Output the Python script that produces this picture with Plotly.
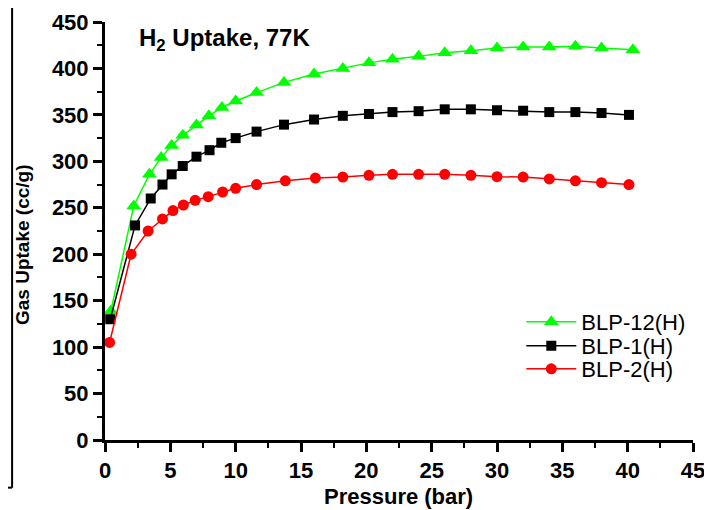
import plotly.graph_objects as go

# ---- data ----
x_blp12 = [0.45, 2.2, 3.4, 4.3, 5.1, 5.95, 7.0, 7.95, 8.95, 10.0, 11.6, 13.7, 16.0, 18.2,
           20.2, 22.0, 24.0, 26.0, 28.0, 30.0, 32.0, 34.0, 36.0, 38.0, 40.4]
y_blp12 = [139, 252, 286, 304, 317, 328, 339, 349, 358, 365, 374, 385, 394, 400,
           406, 410, 413, 417, 419, 422, 423, 423, 424, 422, 420]

x_blp1 = [0.4, 2.3, 3.5, 4.4, 5.1, 5.95, 7.0, 8.0, 8.9, 10.0, 11.6, 13.7, 16.0, 18.2,
          20.2, 22.0, 24.0, 26.0, 28.0, 30.0, 32.0, 34.0, 36.0, 38.0, 40.1]
y_blp1 = [130, 231, 260, 275, 286, 295, 305, 312, 320, 325, 332, 339.5, 345, 349,
          351, 353, 354, 356, 356, 355, 354.5, 353, 353, 352, 350]

x_blp2 = [0.35, 2.0, 3.3, 4.4, 5.2, 6.0, 6.9, 7.9, 9.0, 10.0, 11.6, 13.8, 16.1, 18.2,
          20.2, 22.0, 24.0, 26.0, 28.0, 30.0, 32.0, 34.0, 36.0, 38.0, 40.1]
y_blp2 = [105, 200, 225, 238, 247, 253, 258, 262, 267, 271, 275, 279, 282, 283,
          285, 286, 286, 286, 285, 283.5, 283, 281, 279, 277, 275]

series_names = ["BLP-12(H)", "BLP-1(H)", "BLP-2(H)"]
title_text = "H<sub>2</sub> Uptake, 77K"
x_title = "Pressure (bar)"
y_title = "Gas Uptake (cc/g)"

FONT = "Liberation Sans, Arial, sans-serif"

fig = go.Figure()
fig.add_trace(go.Scatter(x=x_blp12, y=y_blp12, mode="lines+markers", name=series_names[0],
                         legend="legend",
                         line=dict(color="#00ff00", width=1.5),
                         marker=dict(symbol="triangle-up", size=13, color="#00ff00")))
fig.add_trace(go.Scatter(x=x_blp1, y=y_blp1, mode="lines+markers", name=series_names[1],
                         legend="legend2",
                         line=dict(color="#000000", width=1.5),
                         marker=dict(symbol="square", size=10, color="#000000")))
fig.add_trace(go.Scatter(x=x_blp2, y=y_blp2, mode="lines+markers", name=series_names[2],
                         legend="legend3",
                         line=dict(color="#ff0000", width=1.5),
                         marker=dict(symbol="circle", size=11, color="#ff0000")))

axis_common = dict(showgrid=False, zeroline=False, showline=True, linecolor="black",
                   linewidth=3, ticks="outside", tickwidth=2.5, ticklen=9, tickcolor="black",
                   tickfont=dict(family=FONT, size=22, color="black", weight="bold"),
                   mirror=False, automargin=False)

fig.update_xaxes(range=[0, 45], dtick=5, tick0=0,
                 minor=dict(dtick=2.5, ticks="outside", ticklen=5, tickwidth=2, tickcolor="black"),
                 **axis_common)
fig.update_yaxes(range=[0, 450], dtick=50, tick0=0,
                 minor=dict(dtick=25, ticks="outside", ticklen=5, tickwidth=2, tickcolor="black"),
                 **axis_common)

fig.add_annotation(text=title_text, xref="paper", yref="paper", x=0.054, y=0.958,
                   xanchor="left", yanchor="middle", showarrow=False,
                   font=dict(family=FONT, size=24, color="black", weight="bold"))

# x-axis title
fig.add_annotation(text=x_title, xref="paper", yref="paper", x=(398 - 105) / 588, y=(440 - 496) / 418,
                   xanchor="center", yanchor="middle", showarrow=False,
                   font=dict(family=FONT, size=22, color="black", weight="bold"))

# y-axis title (placed slightly below plot centre, as in the reference)
fig.add_annotation(text=y_title, xref="paper", yref="paper", x=(22 - 105) / 588, y=(440 - 245) / 418,
                   xanchor="center", yanchor="middle", textangle=-90, showarrow=False,
                   font=dict(family=FONT, size=19, color="black", weight="bold"))

# cropped frame of a neighbouring panel at the left edge
fig.add_shape(type="line", xref="paper", yref="paper", x0=-0.158, x1=-0.158, y0=-0.114, y1=1.08,
              line=dict(color="black", width=2))
fig.add_shape(type="line", xref="paper", yref="paper", x0=-0.2, x1=-0.158, y0=-0.114, y1=-0.114,
              line=dict(color="black", width=2))

leg_common = dict(xanchor="left", yanchor="middle",
                  font=dict(family=FONT, size=22, color="black"),
                  bgcolor="rgba(0,0,0,0)", itemwidth=50)
fig.update_layout(
    width=712, height=510,
    margin=dict(l=97, r=27, t=14, b=78),
    plot_bgcolor="white", paper_bgcolor="white",
    showlegend=True,
    legend=dict(x=0.708, y=(440 - 322) / 418, **leg_common),
    legend2=dict(x=0.708, y=(440 - 346) / 418, **leg_common),
    legend3=dict(x=0.708, y=(440 - 369) / 418, **leg_common),
)

fig.write_html("out.html")
